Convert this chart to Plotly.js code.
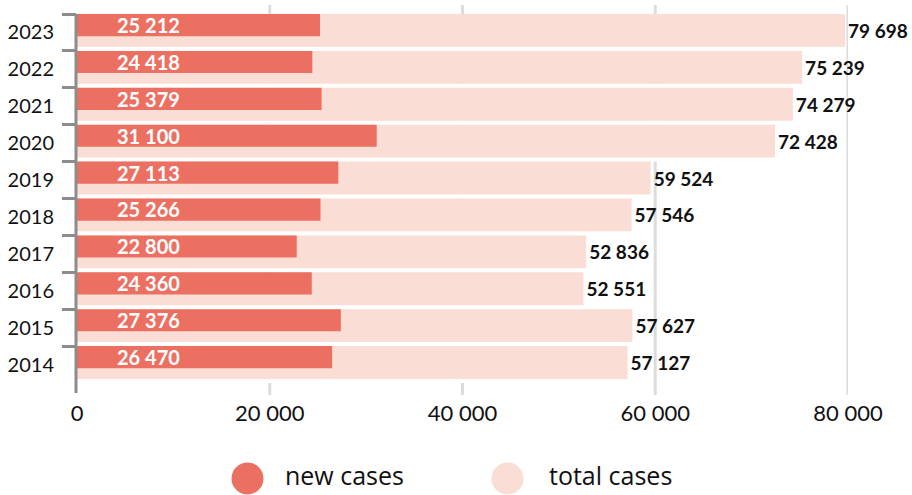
<!DOCTYPE html>
<html>
<head>
<meta charset="utf-8">
<script src="https://cdn.plot.ly/plotly-3.0.1.min.js"></script>
<style>html,body{margin:0;padding:0;background:#fff;}#chart{width:912px;height:495px;}</style>
</head>
<body>
<div id="chart"></div>
<script>
// ---- data ----
var years = ['2023','2022','2021','2020','2019','2018','2017','2016','2015','2014'];
var newCases = [25212, 24418, 25379, 31100, 27113, 25266, 22800, 24360, 27376, 26470];
var totalCases = [79698, 75239, 74279, 72428, 59524, 57546, 52836, 52551, 57627, 57127];
var xTicks = [0, 20000, 40000, 60000, 80000];
var seriesNames = ['new cases', 'total cases'];

// ---- style ----
var cNew = '#EC7062';
var cTotal = '#FADDD4';
var W = 912, H = 495;
var mL = 77, mR = 64, mT = 14, mB = 112;
var plotW = W - mL - mR, plotH = H - mT - mB;
function px2x(px){ return (px - mL) / plotW; }
function py2y(py){ return (H - mB - py) / plotH; }

var traces = [
  { // white row band behind each total bar (hides gridlines in row gaps)
    type: 'bar', orientation: 'h', name: 'band',
    y: years, x: totalCases,
    marker: {color: '#ffffff', line: {width: 0}},
    width: 1, offset: -0.5,
    hoverinfo: 'skip', showlegend: false
  },
  {
    type: 'bar', orientation: 'h', name: seriesNames[1],
    y: years, x: totalCases,
    marker: {color: cTotal, line: {width: 0}},
    width: 0.89, offset: -0.5,
    texttemplate: '%{x:,}', textposition: 'outside', cliponaxis: false,
    textfont: {family: 'Lato', size: 19, color: '#111', weight: 'bold'},
    hoverinfo: 'skip', showlegend: false
  },
  {
    type: 'bar', orientation: 'h', name: seriesNames[0],
    y: years, x: newCases,
    marker: {color: cNew, line: {width: 0}},
    width: 0.6, offset: -0.5,
    hoverinfo: 'skip', showlegend: false
  }
];

var annotations = years.map(function(yr, i){
  return {
    xref: 'x', yref: 'y', x: 0, y: i, xanchor: 'left', yanchor: 'middle',
    xshift: 38, yshift: 7.5, showarrow: false,
    text: newCases[i].toLocaleString('en-US').replace(/,/g, ' '),
    font: {family: 'Lato', size: 20, color: '#fff', weight: 'bold'}
  };
});

var shapes = [];
xTicks.forEach(function(v){
  if (v === 0) return;
  shapes.push({type: 'line', layer: 'below', xref: 'x', yref: 'paper',
    x0: v, x1: v, y0: py2y(5), y1: py2y(395),
    line: {color: '#dcdcdc', width: 3}});
});
shapes.push({type: 'line', layer: 'above', xref: 'paper', yref: 'paper',
  x0: px2x(76), x1: px2x(76), y0: 1, y1: py2y(393),
  line: {color: '#8c8c8c', width: 3}});

// legend (manual)
var legendItems = [
  {cx: 247.5, tx: 285, color: cNew, label: seriesNames[0]},
  {cx: 507.5, tx: 549, color: cTotal, label: seriesNames[1]}
];
legendItems.forEach(function(it){
  shapes.push({type: 'circle', xref: 'paper', yref: 'paper',
    xsizemode: 'pixel', ysizemode: 'pixel',
    xanchor: px2x(it.cx), yanchor: py2y(478.5),
    x0: -16, x1: 16, y0: -16, y1: 16,
    fillcolor: it.color, line: {width: 0}});
  annotations.push({xref: 'paper', yref: 'paper', x: px2x(it.tx - 2), y: py2y(475),
    xanchor: 'left', yanchor: 'middle', showarrow: false, text: it.label,
    font: {family: 'Open Sans', size: 25, color: '#111'}});
});

var layout = {
  width: W, height: H,
  margin: {l: mL, r: mR, t: mT, b: mB, pad: 0},
  paper_bgcolor: '#fff', plot_bgcolor: 'rgba(0,0,0,0)',
  barmode: 'overlay',
  separators: '. ',
  showlegend: false,
  xaxis: {
    range: [0, 80000], tickvals: xTicks, tickformat: ',',
    showgrid: false, zeroline: false, showline: false, ticks: '',
    ticklabelstandoff: 15,
    tickfont: {family: 'Lato', size: 22, color: '#111'}
  },
  yaxis: {
    type: 'category', range: [years.length - 0.5, -0.5], autorange: false,
    categoryorder: 'array', categoryarray: years,
    showgrid: false, zeroline: false, showline: false,
    ticks: 'outside', tickson: 'boundaries', ticklen: 14, tickwidth: 3, tickcolor: '#8c8c8c',
    ticklabelstandoff: 22,
    tickfont: {family: 'Lato', size: 20, color: '#111'}
  },
  shapes: shapes,
  annotations: annotations
};

Plotly.newPlot('chart', traces, layout, {displayModeBar: false, staticPlot: true});
</script>
</body>
</html>
